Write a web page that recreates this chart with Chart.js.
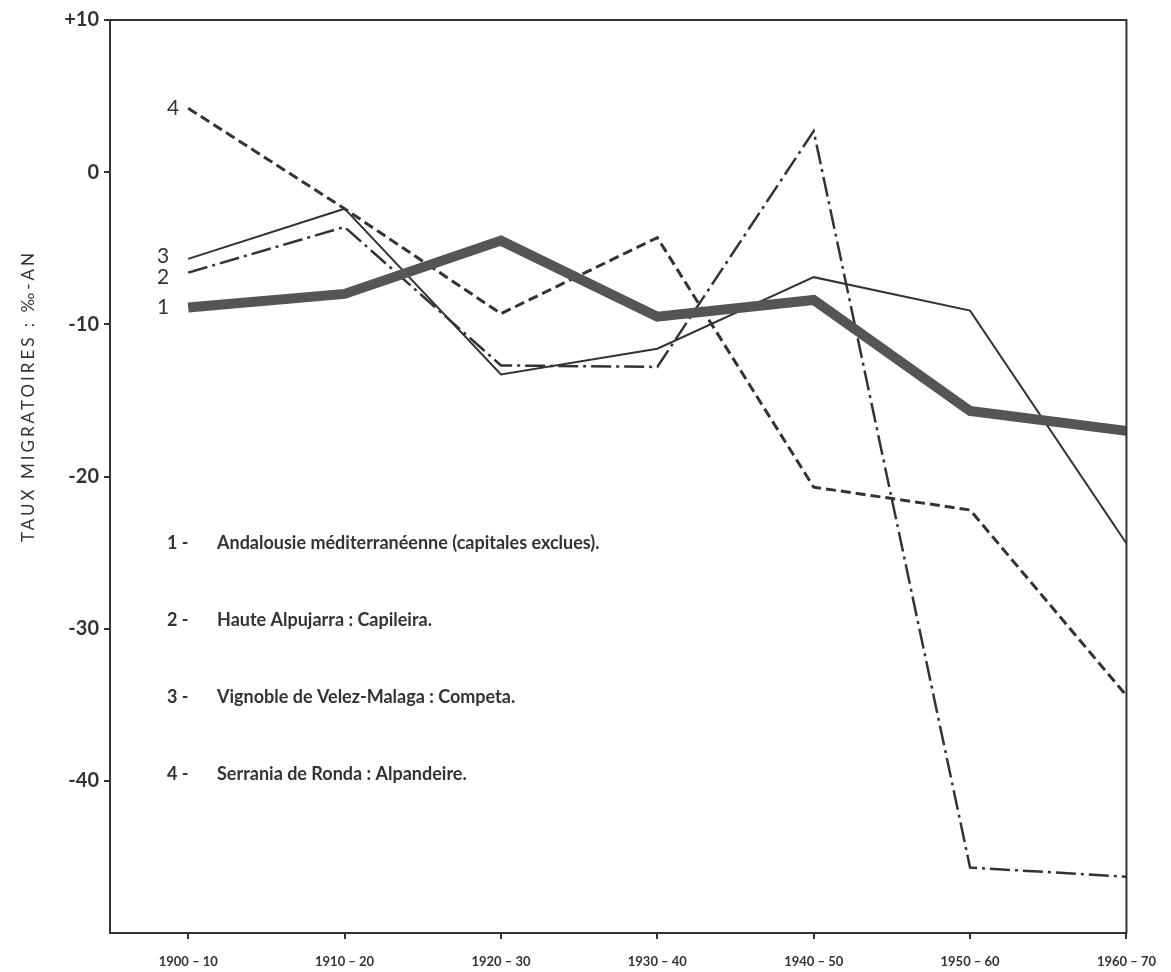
<!DOCTYPE html>
<html>
<head>
<meta charset="utf-8">
<script src="https://cdn.jsdelivr.net/npm/chart.js@4/dist/chart.umd.min.js"></script>
<style>
  html, body { margin: 0; padding: 0; background: #fff; }
  #box { width: 1171px; height: 972px; }
</style>
</head>
<body>
<div id="box"><canvas id="myChart" width="1171" height="972"></canvas></div>
<script>
// Decades on the x axis
const periods = ['1900 – 10', '1910 – 20', '1920 – 30', '1930 – 40', '1940 – 50', '1950 – 60', '1960 – 70'];

// Migration rates, per thousand per year
const andalousie = [-8.9, -8.0, -4.5, -9.5, -8.4, -15.7, -17.0];
const capileira  = [-6.6, -3.6, -12.7, -12.8, 2.7, -45.7, -46.3];
const competa    = [-5.7, -2.4, -13.3, -11.6, -6.9, -9.1, -24.4];
const alpandeire = [4.2, -2.4, -9.3, -4.3, -20.7, -22.2, -34.4];

const yTicks = [10, 0, -10, -20, -30, -40];

const legendLines = [
  ['1 -', 'Andalousie méditerranéenne (capitales exclues).'],
  ['2 -', 'Haute Alpujarra : Capileira.'],
  ['3 -', 'Vignoble de Velez-Malaga : Competa.'],
  ['4 -', 'Serrania de Ronda : Alpandeire.']
];

const ink = '#333';

function pts(arr) {
  return arr.map(function (v, i) { return { x: i, y: v }; });
}

// frame, curve numbers, legend and axis title
const extras = {
  id: 'extras',
  afterDraw: function (chart) {
    const c = chart.ctx;
    const a = chart.chartArea;
    const xs = chart.scales.x;
    const ys = chart.scales.y;
    c.save();
    c.strokeStyle = ink;
    c.lineWidth = 2;
    c.strokeRect(a.left, a.top, a.right - a.left, a.bottom - a.top);

    // numbers at the start of each curve
    c.fillStyle = ink;
    c.font = '21px Lato';
    c.textAlign = 'center';
    c.textBaseline = 'middle';
    const nums = [['1', andalousie, -25, 0], ['2', capileira, -25, 5], ['3', competa, -25, -3], ['4', alpandeire, -15, 0]];
    nums.forEach(function (n) {
      c.fillText(n[0], xs.getPixelForValue(0) + n[2], ys.getPixelForValue(n[1][0]) + n[3]);
    });

    // legend text inside the plot
    c.textAlign = 'left';
    c.font = 'bold 18px Lato';
    legendLines.forEach(function (l, i) {
      const y = 543 + i * 77;
      c.fillText(l[0], 167, y);
      c.fillText(l[1], 217, y);
    });

    // y axis title
    c.translate(29, 396);
    c.rotate(-Math.PI / 2);
    c.textAlign = 'center';
    c.font = '17px Lato';
    c.letterSpacing = '3px';
    c.fillText('TAUX MIGRATOIRES : ‰-AN', 0, 0);
    c.restore();
  }
};

const ctx = document.getElementById('myChart').getContext('2d');

const myChart = new Chart(ctx, {
  type: 'line',
  data: {
    datasets: [
      {
        label: '1',
        data: pts(andalousie),
        borderColor: '#555',
        borderWidth: 10
      },
      {
        label: '2',
        data: pts(capileira),
        borderColor: ink,
        borderWidth: 2.5,
        borderDash: [20, 5, 3, 5]
      },
      {
        label: '3',
        data: pts(competa),
        borderColor: ink,
        borderWidth: 2
      },
      {
        label: '4',
        data: pts(alpandeire),
        borderColor: ink,
        borderWidth: 3,
        borderDash: [10, 5]
      }
    ]
  },
  options: {
    responsive: false,
    animation: false,
    layout: { padding: { left: 0, top: 20, right: 42, bottom: 0 } },
    elements: {
      point: { radius: 0 },
      line: { tension: 0, fill: false }
    },
    plugins: {
      legend: { display: false },
      tooltip: { enabled: false }
    },
    scales: {
      x: {
        type: 'linear',
        min: -0.5,
        max: 6,
        afterFit: function (s) { s.height = 39; },
        afterBuildTicks: function (s) {
          s.ticks = periods.map(function (p, i) { return { value: i }; });
        },
        border: { display: false },
        grid: { drawOnChartArea: false, tickLength: 6, color: ink, lineWidth: 2 },
        ticks: {
          padding: 15,
          maxRotation: 0,
          autoSkip: false,
          color: ink,
          font: { family: 'Lato', size: 13, weight: 'bold' },
          callback: function (v) { return periods[v]; }
        }
      },
      y: {
        min: -50,
        max: 10,
        afterFit: function (s) { s.width = 110; },
        afterBuildTicks: function (s) {
          s.ticks = yTicks.map(function (v) { return { value: v }; });
        },
        border: { display: false },
        grid: { drawOnChartArea: false, tickLength: 6, color: ink, lineWidth: 2 },
        ticks: {
          padding: 5,
          color: ink,
          font: { family: 'Lato', size: 20, weight: 'bold' },
          callback: function (v) { return v > 0 ? '+' + v : String(v); }
        }
      }
    }
  },
  plugins: [extras]
});
</script>
</body>
</html>
